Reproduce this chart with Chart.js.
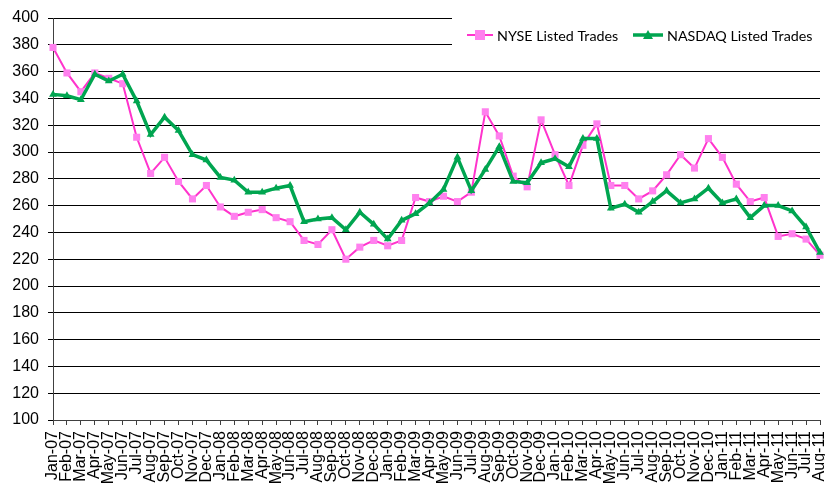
<!DOCTYPE html>
<html>
<head>
<meta charset="utf-8">
<script src="https://cdn.jsdelivr.net/npm/chart.js@4.4.1/dist/chart.umd.min.js"></script>
<style>
  html, body { margin: 0; padding: 0; background: #fff; overflow: hidden; }
  #wrap { position: relative; width: 825px; height: 484px; }
</style>
</head>
<body>
<div id="wrap"><canvas id="lineChart" width="825" height="484"></canvas></div>
<script>
var months = ['Jan-07','Feb-07','Mar-07','Apr-07','May-07','Jun-07','Jul-07','Aug-07','Sep-07','Oct-07','Nov-07','Dec-07',
    'Jan-08','Feb-08','Mar-08','Apr-08','May-08','Jun-08','Jul-08','Aug-08','Sep-08','Oct-08','Nov-08','Dec-08',
    'Jan-09','Feb-09','Mar-09','Apr-09','May-09','Jun-09','Jul-09','Aug-09','Sep-09','Oct-09','Nov-09','Dec-09',
    'Jan-10','Feb-10','Mar-10','Apr-10','May-10','Jun-10','Jul-10','Aug-10','Sep-10','Oct-10','Nov-10','Dec-10',
    'Jan-11','Feb-11','Mar-11','Apr-11','May-11','Jun-11','Jul-11','Aug-11'];

var nyseTrades = [378, 359, 345, 359, 355, 351, 311, 284, 296, 278, 265, 275,
    259, 252, 255, 257, 251, 248, 234, 231, 242, 220, 229, 234,
    230, 234, 266, 263, 267, 263, 270, 330, 312, 282, 274, 324,
    298, 275, 305, 321, 275, 275, 265, 271, 283, 298, 288, 310,
    296, 276, 263, 266, 237, 239, 235, 223];

var nasdaqTrades = [343, 342, 339, 358, 353, 358, 338, 313, 326, 316, 298, 294,
    281, 279, 270, 270, 273, 275, 248, 250, 251, 242, 255, 246,
    235, 249, 254, 262, 272, 296, 271, 287, 304, 278, 277, 292,
    295, 289, 310, 310, 258, 261, 255, 263, 271, 262, 265, 273,
    262, 265, 251, 260, 260, 256, 244, 225];

var yTicks = { min: 100, max: 400, step: 20 };

var legendItems = [
    { label: 'NYSE Listed Trades', line: '#ff33cc', fill: '#ff80ee', width: 2, shape: 'rect', x: 467 },
    { label: 'NASDAQ Listed Trades', line: '#00a550', fill: '#00a550', width: 3.5, shape: 'triangle', x: 633 }
];

// white box behind the legend, drawn over the top gridlines
var legendBox = {
    id: 'legendBox',
    beforeDatasetsDraw: function(chart) {
        var ctx = chart.ctx;
        ctx.save();
        ctx.fillStyle = '#fff';
        ctx.fillRect(452, 0, 400, 58);
        ctx.font = '15px Lato';
        var k = 146 / ctx.measureText('NASDAQ Listed Trades').width;
        ctx.font = (15 * k).toFixed(1) + 'px Lato';
        ctx.textBaseline = 'middle';
        var y = 35;
        legendItems.forEach(function(it) {
            var len = it.shape === 'rect' ? 26 : 30;
            ctx.strokeStyle = it.line;
            ctx.lineWidth = it.width;
            ctx.beginPath();
            ctx.moveTo(it.x, y);
            ctx.lineTo(it.x + len, y);
            ctx.stroke();
            var cx = it.x + len / 2;
            ctx.fillStyle = it.fill;
            if (it.shape === 'rect') {
                ctx.fillRect(cx - 5, y - 5, 10, 10);
            } else {
                ctx.beginPath();
                ctx.moveTo(cx, y - 5);
                ctx.lineTo(cx + 5, y + 4);
                ctx.lineTo(cx - 5, y + 4);
                ctx.closePath();
                ctx.fill();
            }
            ctx.fillStyle = '#000';
            ctx.fillText(it.label, it.x + len + 4, y + 1);
        });
        ctx.restore();
    }
};

var tickFont = { family: "'Liberation Sans', Arial, sans-serif", size: 16 };

var ctx = document.getElementById('lineChart').getContext('2d');
var myChart = new Chart(ctx, {
    type: 'line',
    data: {
        labels: months,
        datasets: [{
            label: 'NYSE Listed Trades',
            data: nyseTrades,
            borderColor: '#ff33cc',
            backgroundColor: '#ff80ee',
            borderWidth: 2,
            pointStyle: 'rect',
            pointRadius: 5,
            pointBorderWidth: 0,
            tension: 0,
            order: 1
        }, {
            label: 'NASDAQ Listed Trades',
            data: nasdaqTrades,
            borderColor: '#00a550',
            backgroundColor: '#00a550',
            borderWidth: 3.5,
            pointStyle: 'triangle',
            pointRadius: 4.5,
            pointBorderWidth: 0,
            tension: 0,
            order: 0
        }]
    },
    options: {
        responsive: false,
        animation: false,
        layout: { padding: { top: 18, right: 3, left: 0, bottom: 0 } },
        plugins: {
            legend: { display: false },
            tooltip: { enabled: false }
        },
        scales: {
            x: {
                offset: false,
                grid: { drawOnChartArea: false, color: '#404040', tickLength: 5 },
                border: { color: '#404040' },
                ticks: {
                    autoSkip: false,
                    maxRotation: 90,
                    minRotation: 90,
                    padding: 6,
                    color: '#000',
                    font: tickFont
                },
                afterFit: function(scale) {
                    scale.height = 64;
                    scale.paddingLeft = 0;
                    scale.paddingRight = 0;
                }
            },
            y: {
                min: yTicks.min,
                max: yTicks.max,
                grid: { color: '#000', tickLength: 5 },
                border: { color: '#404040' },
                ticks: {
                    stepSize: yTicks.step,
                    padding: 9,
                    color: '#000',
                    font: tickFont
                },
                afterFit: function(scale) {
                    scale.width = 53;
                    scale.paddingTop = 0;
                    scale.paddingBottom = 0;
                }
            }
        }
    },
    plugins: [legendBox]
});
</script>
</body>
</html>
